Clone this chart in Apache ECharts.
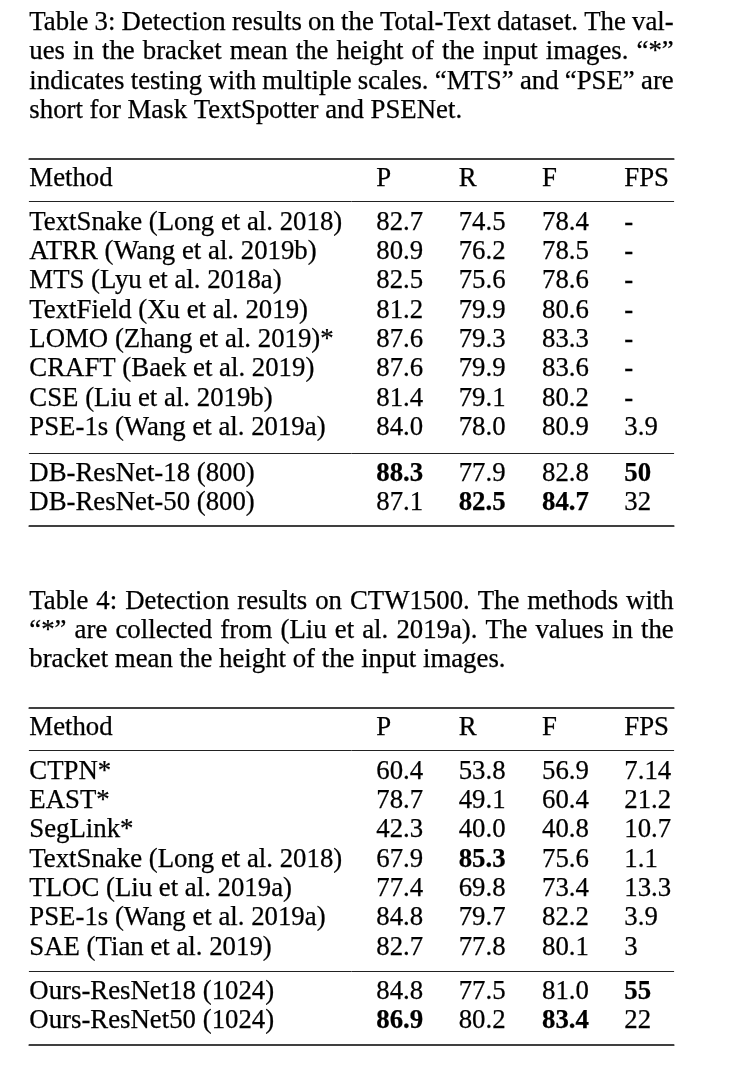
<!DOCTYPE html>
<html>
<head>
<meta charset="utf-8">
<script src="https://cdn.jsdelivr.net/npm/echarts@6/dist/echarts.min.js"></script>
<style>
html,body{margin:0;padding:0;background:#fff;}
#chart{width:733px;height:1068px;}
</style>
</head>
<body>
<div id="chart"></div>
<script>
// ---------------- DATA ----------------
const HEADER = ['Method', 'P', 'R', 'F', 'FPS'];

const T3_CAPTION = [
  'Table 3: Detection results on the Total-Text dataset. The val-',
  'ues in the bracket mean the height of the input images. \u201C*\u201D',
  'indicates testing with multiple scales. \u201CMTS\u201D and \u201CPSE\u201D are',
  'short for Mask TextSpotter and PSENet.'
];
const T3_METHODS = [
  'TextSnake (Long et al. 2018)',
  'ATRR (Wang et al. 2019b)',
  'MTS (Lyu et al. 2018a)',
  'TextField (Xu et al. 2019)',
  'LOMO (Zhang et al. 2019)*',
  'CRAFT (Baek et al. 2019)',
  'CSE (Liu et al. 2019b)',
  'PSE-1s (Wang et al. 2019a)',
  'DB-ResNet-18 (800)',
  'DB-ResNet-50 (800)'
];
const T3_P   = ['82.7', '80.9', '82.5', '81.2', '87.6', '87.6', '81.4', '84.0', '88.3', '87.1'];
const T3_R   = ['74.5', '76.2', '75.6', '79.9', '79.3', '79.9', '79.1', '78.0', '77.9', '82.5'];
const T3_F   = ['78.4', '78.5', '78.6', '80.6', '83.3', '83.6', '80.2', '80.9', '82.8', '84.7'];
const T3_FPS = ['-', '-', '-', '-', '-', '-', '-', '3.9', '50', '32'];
const T3_BOLD = [[8, 'P'], [8, 'FPS'], [9, 'R'], [9, 'F']];
const T3_SPLIT = 8;

const T4_CAPTION = [
  'Table 4: Detection results on CTW1500. The methods with',
  '\u201C*\u201D are collected from (Liu et al. 2019a). The values in the',
  'bracket mean the height of the input images.'
];
const T4_METHODS = [
  'CTPN*',
  'EAST*',
  'SegLink*',
  'TextSnake (Long et al. 2018)',
  'TLOC (Liu et al. 2019a)',
  'PSE-1s (Wang et al. 2019a)',
  'SAE (Tian et al. 2019)',
  'Ours-ResNet18 (1024)',
  'Ours-ResNet50 (1024)'
];
const T4_P   = ['60.4', '78.7', '42.3', '67.9', '77.4', '84.8', '82.7', '84.8', '86.9'];
const T4_R   = ['53.8', '49.1', '40.0', '85.3', '69.8', '79.7', '77.8', '77.5', '80.2'];
const T4_F   = ['56.9', '60.4', '40.8', '75.6', '73.4', '82.2', '80.1', '81.0', '83.4'];
const T4_FPS = ['7.14', '21.2', '10.7', '1.1', '13.3', '3.9', '3', '55', '22'];
const T4_BOLD = [[3, 'R'], [7, 'FPS'], [8, 'P'], [8, 'F']];
const T4_SPLIT = 7;

// ---------------- LAYOUT / STYLE ----------------
const FONT_FAMILY = 'Liberation Serif';
const FS = 26.8;
const MID = 0.3375 * FS;            // baseline -> middle offset
const TABLE_LEFT = 29.3;
const TABLE_RIGHT = 673.7;
const TABLE_W = TABLE_RIGHT - TABLE_LEFT;
const COL_X = [0, 347, 429.4, 512.7, 595];   // column left edges (axis units = px from table left)

const TABLE_LAYOUT = [
  { captionBaselines: [31.6, 61.2, 90.8, 120.4], justify: [1, 1, 1, 0],
    rules: [158.3, 201.7, 453.3, 525.7],
    pads: { header: [0.716, 0.764], body: [0.713, 0.866], ours: [0.692, 0.777] } },
  { captionBaselines: [610.7, 640.0, 669.3], justify: [1, 1, 0],
    rules: [707.3, 750.3, 971.0, 1045.0],
    pads: { header: [0.716, 0.75], body: [0.726, 0.798], ours: [0.703, 0.82] } }
];
const THICK = { color: '#000', width: 1.7 };
const THIN = { color: '#222', width: 1.0 };

// ---------------- BUILD ----------------
const TABLES = [
  { caption: T3_CAPTION, methods: T3_METHODS, cols: [T3_P, T3_R, T3_F, T3_FPS], bold: T3_BOLD, split: T3_SPLIT },
  { caption: T4_CAPTION, methods: T4_METHODS, cols: [T4_P, T4_R, T4_F, T4_FPS], bold: T4_BOLD, split: T4_SPLIT }
];

const measureCtx = document.createElement('canvas').getContext('2d');
measureCtx.font = FS + 'px "' + FONT_FAMILY + '"';
function mw(s) { return measureCtx.measureText(s).width; }

const grids = [], xAxes = [], yAxes = [], series = [], graphics = [];

function textStyle(txt, bold) {
  return {
    text: txt, fontFamily: FONT_FAMILY, fontSize: FS, fontWeight: bold ? 'bold' : 'normal',
    fill: '#000', stroke: '#000', lineWidth: 0.25,
    align: 'left', verticalAlign: 'middle', textAlign: 'left', textVerticalAlign: 'middle'
  };
}

TABLES.forEach(function (tb, ti) {
  const lay = TABLE_LAYOUT[ti];
  // caption lines (justified like the LaTeX source)
  tb.caption.forEach(function (line, li) {
    const words = line.split(' ');
    const widths = words.map(mw);
    const sum = widths.reduce(function (a, b) { return a + b; }, 0);
    const gap = lay.justify[li] && words.length > 1 ? (TABLE_W - sum) / (words.length - 1) : mw(' ');
    let x = TABLE_LEFT;
    words.forEach(function (w, wi) {
      graphics.push({ type: 'text', x: x, y: lay.captionBaselines[li] - MID, silent: true,
        style: textStyle(w, false) });
      x += widths[wi] + gap;
    });
  });

  const boldSet = {};
  tb.bold.forEach(function (b) { boldSet[b[0] + ':' + b[1]] = true; });

  function rowCells(i, r) {
    const out = [{ c: 0, r: r, t: tb.methods[i], b: false }];
    for (let k = 0; k < 4; k++) {
      out.push({ c: k + 1, r: r, t: tb.cols[k][i], b: !!boldSet[i + ':' + HEADER[k + 1]] });
    }
    return out;
  }

  const sections = [];
  sections.push({ key: 'header', n: 1, cells: HEADER.map(function (h, c) { return { c: c, r: 0, t: h, b: false }; }),
    top: lay.rules[0], bottom: lay.rules[1], lineTop: THICK, lineBottom: THIN });
  let body = [];
  for (let i = 0; i < tb.split; i++) body = body.concat(rowCells(i, i));
  sections.push({ key: 'body', n: tb.split, cells: body, top: lay.rules[1], bottom: lay.rules[2], lineTop: null, lineBottom: null });
  let ours = [];
  for (let i = tb.split; i < tb.methods.length; i++) ours = ours.concat(rowCells(i, i - tb.split));
  sections.push({ key: 'ours', n: tb.methods.length - tb.split, cells: ours, top: lay.rules[2], bottom: lay.rules[3], lineTop: THIN, lineBottom: THICK });

  sections.forEach(function (s) {
    const gi = grids.length;
    grids.push({ left: TABLE_LEFT, width: TABLE_W, top: s.top, height: s.bottom - s.top, containLabel: false });
    ['top', 'bottom'].forEach(function (pos) {
      const ls = pos === 'top' ? s.lineTop : s.lineBottom;
      xAxes.push({
        type: 'value', gridIndex: gi, position: pos, min: 0, max: TABLE_W,
        axisLine: { show: !!ls, onZero: false, lineStyle: ls ? { color: ls.color, width: ls.width } : {} },
        axisTick: { show: false }, axisLabel: { show: false }, splitLine: { show: false }
      });
    });
    const xi = xAxes.length - 1;
    const pad = lay.pads[s.key];
    yAxes.push({ type: 'value', gridIndex: gi, inverse: true, min: -pad[0], max: s.n - 1 + pad[1], show: false });
    const yi = yAxes.length - 1;
    const cells = s.cells;
    series.push({
      type: 'custom', xAxisIndex: xi, yAxisIndex: yi, silent: true, clip: false,
      data: cells.map(function (d) { return [d.c, d.r]; }),
      renderItem: function (params, api) {
        const d = cells[params.dataIndex];
        const p = api.coord([COL_X[api.value(0)], api.value(1)]);
        return { type: 'text', x: p[0], y: p[1], style: textStyle(d.t, d.b) };
      }
    });
  });
});

const chart = echarts.init(document.getElementById('chart'), null, { renderer: 'canvas' });
chart.setOption({
  backgroundColor: '#fff',
  animation: false,
  grid: grids,
  xAxis: xAxes,
  yAxis: yAxes,
  series: series,
  graphic: { elements: graphics }
});
</script>
</body>
</html>
